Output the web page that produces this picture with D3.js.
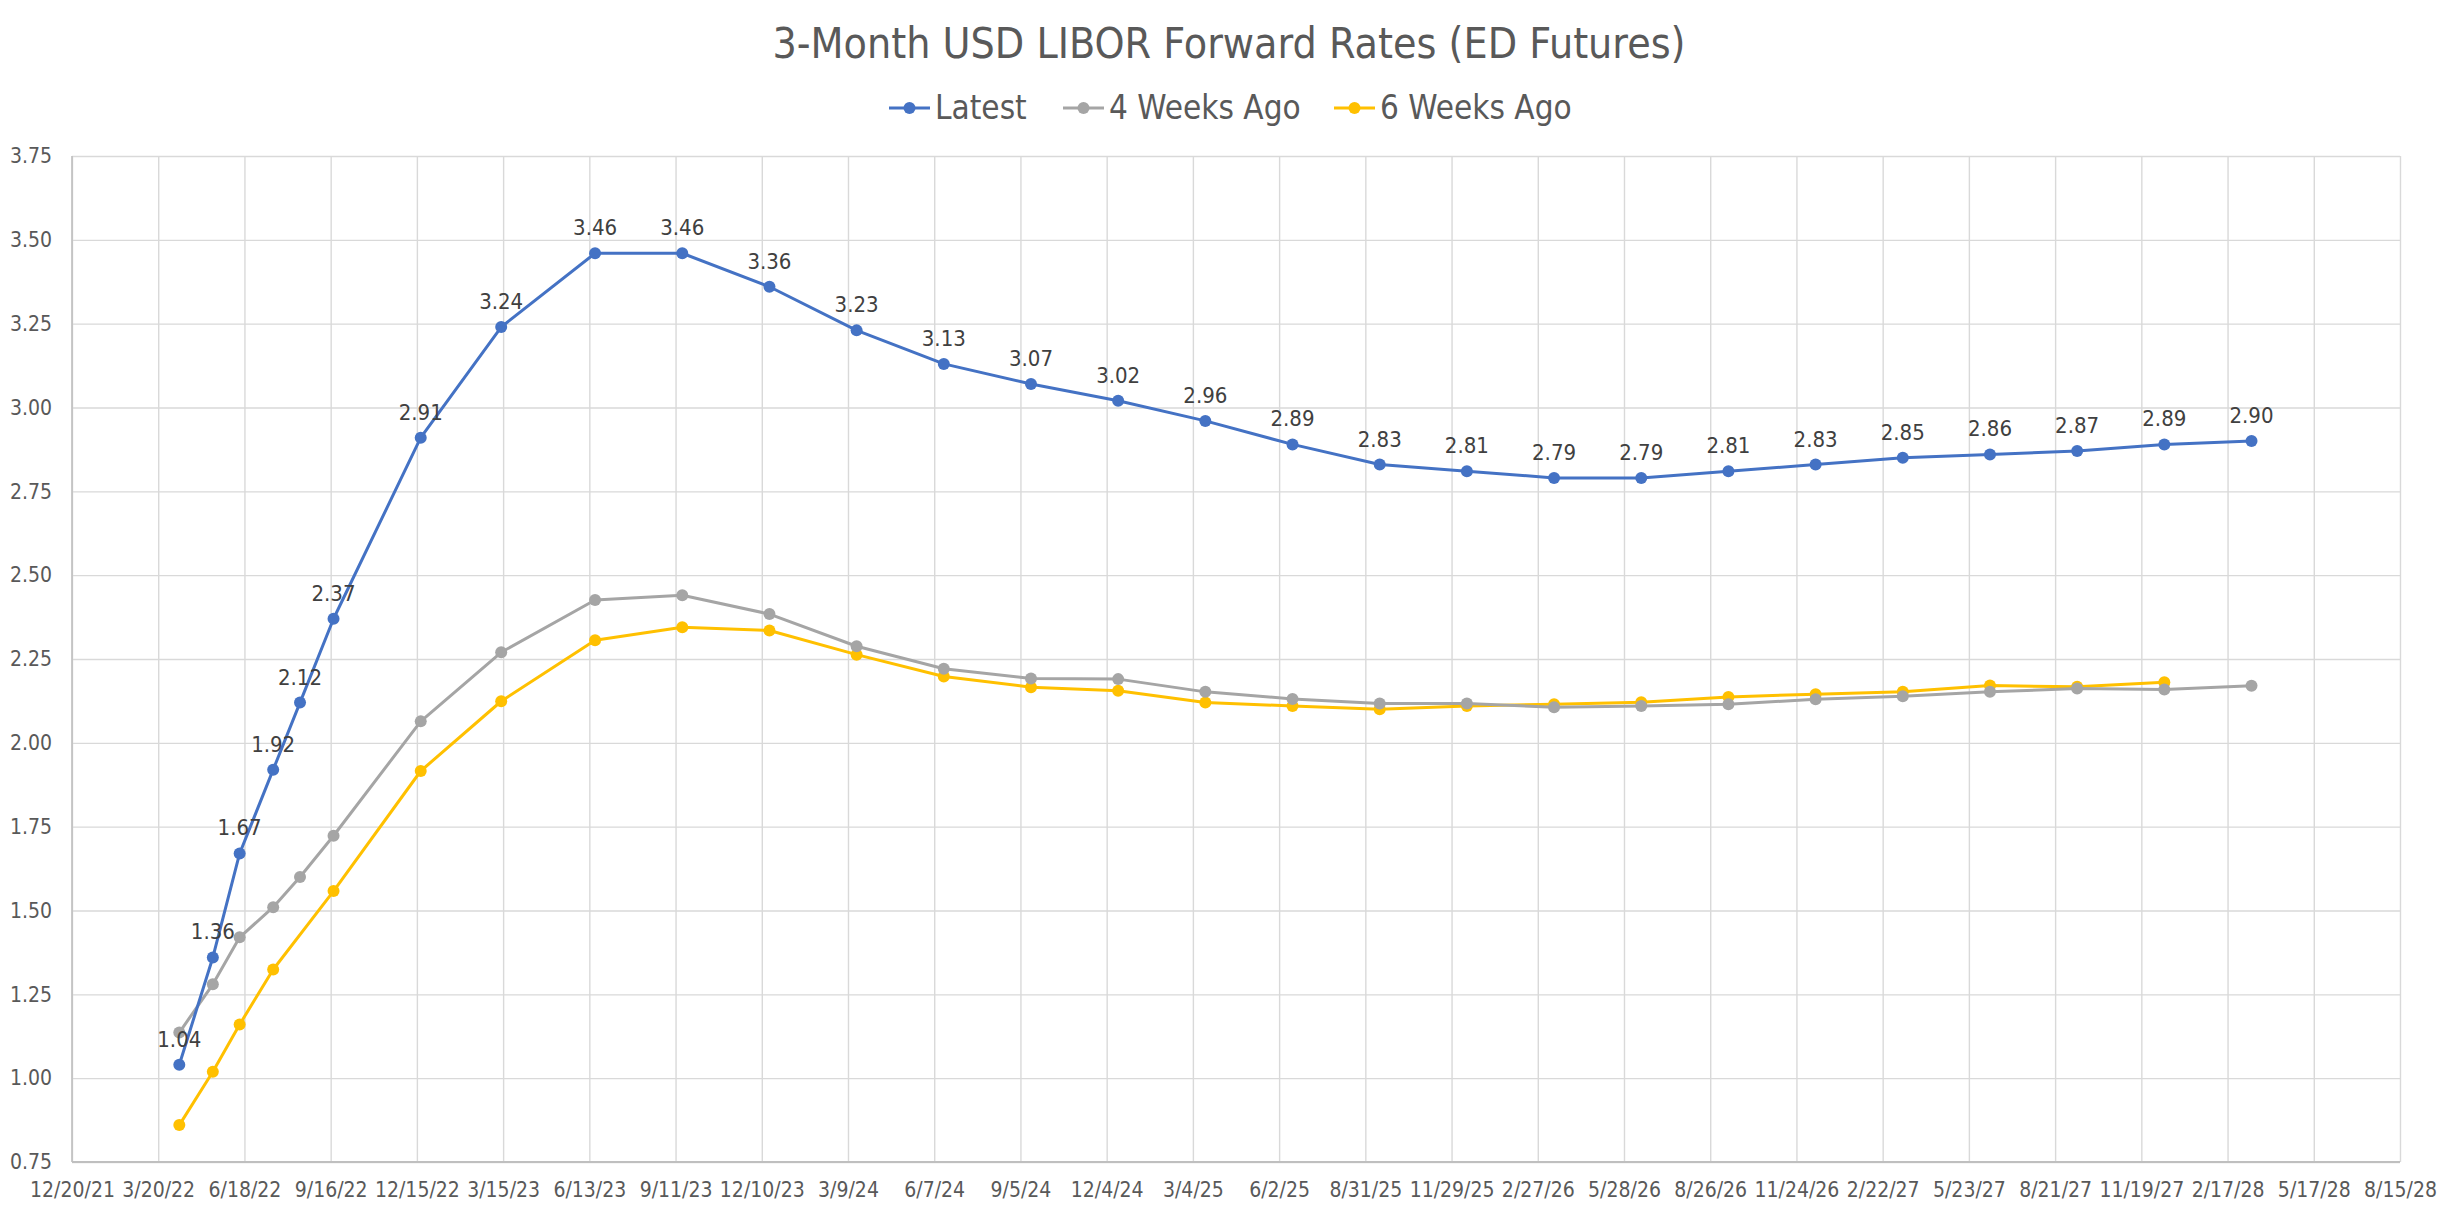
<!DOCTYPE html>
<html>
<head>
<meta charset="utf-8">
<script src="https://cdn.jsdelivr.net/npm/d3@7"></script>
<style>
  html, body { margin: 0; padding: 0; background: #ffffff; }
  svg { display: block; }
  text { font-family: "Liberation Sans Narrow", "DejaVu Sans Condensed", "Roboto", sans-serif; }
</style>
</head>
<body>
<svg id="chart" width="2458" height="1214"></svg>
<script>
// ---------------- data ----------------
const chartTitle = "3-Month USD LIBOR Forward Rates (ED Futures)";
const seriesNames = ["Latest", "4 Weeks Ago", "6 Weeks Ago"];
const seriesColors = ["#4472C4", "#A5A5A5", "#FFC000"];

// contract dates (last trading days)
const contractDates = [
  "2022-04-11","2022-05-16","2022-06-13","2022-07-18","2022-08-15","2022-09-19",
  "2022-12-19","2023-03-13","2023-06-19","2023-09-18","2023-12-18","2024-03-18",
  "2024-06-17","2024-09-16","2024-12-16","2025-03-17","2025-06-16","2025-09-15",
  "2025-12-15","2026-03-16","2026-06-15","2026-09-14","2026-12-14","2027-03-15",
  "2027-06-14","2027-09-13","2027-12-13","2028-03-13"
];
const latest = [1.04,1.36,1.67,1.92,2.12,2.37,2.91,3.24,3.46,3.46,3.36,3.23,3.13,3.07,3.02,2.96,2.89,2.83,2.81,2.79,2.79,2.81,2.83,2.85,2.86,2.87,2.89,2.90];
const fourWeeksAgo = [1.136,1.28,1.42,1.51,1.60,1.723,2.064,2.27,2.426,2.44,2.384,2.288,2.221,2.192,2.19,2.152,2.131,2.117,2.117,2.106,2.11,2.115,2.13,2.139,2.152,2.162,2.159,2.17];
const sixWeeksAgo = [0.86,1.019,1.16,1.324,null,1.558,1.916,2.124,2.306,2.345,2.335,2.263,2.198,2.166,2.155,2.12,2.11,2.10,2.11,2.115,2.121,2.137,2.145,2.152,2.171,2.167,2.181,null];

// axis ticks
const xAxisStart = "2021-12-20";
const xAxisEnd = "2028-08-15";
const xTickStepDays = 90;
const yTicks = [0.75,1.00,1.25,1.50,1.75,2.00,2.25,2.50,2.75,3.00,3.25,3.50,3.75];

// ---------------- layout ----------------
const W = 2458, H = 1214;
const plot = { left: 72, right: 2400, top: 156, bottom: 1162 };
const parse = d3.utcParse("%Y-%m-%d");
const fmtDate = d3.utcFormat("%-m/%-d/%y");

const x = d3.scaleUtc().domain([parse(xAxisStart), parse(xAxisEnd)]).range([plot.left, plot.right]);
const y = d3.scaleLinear().domain([yTicks[0], yTicks[yTicks.length-1]]).range([plot.bottom, plot.top]);

const xTickValues = [];
for (let d = parse(xAxisStart); d <= parse(xAxisEnd); d = d3.utcDay.offset(d, xTickStepDays)) xTickValues.push(d);

const svg = d3.select("#chart");
svg.append("rect").attr("width", W).attr("height", H).attr("fill", "#fff");

// gridlines
const g = svg.append("g");
g.append("g").attr("transform", `translate(0,${plot.bottom})`)
  .call(d3.axisBottom(x).tickValues(xTickValues).tickSize(-(plot.bottom - plot.top)).tickFormat(""))
  .call(s => s.select(".domain").remove())
  .call(s => s.selectAll("line").attr("stroke", "#D9D9D9").attr("stroke-width", 1.4));
g.append("g").attr("transform", `translate(${plot.left},0)`)
  .call(d3.axisLeft(y).tickValues(yTicks).tickSize(-(plot.right - plot.left)).tickFormat(""))
  .call(s => s.select(".domain").remove())
  .call(s => s.selectAll("line").attr("stroke", "#D9D9D9").attr("stroke-width", 1.4));

// axis lines
svg.append("line").attr("x1", plot.left).attr("x2", plot.left).attr("y1", plot.top).attr("y2", plot.bottom)
  .attr("stroke", "#BFBFBF").attr("stroke-width", 1.6);
svg.append("line").attr("x1", plot.left).attr("x2", plot.right).attr("y1", plot.bottom).attr("y2", plot.bottom)
  .attr("stroke", "#BFBFBF").attr("stroke-width", 2);

// axis labels
const xAx = svg.append("g").attr("transform", `translate(0,${plot.bottom})`)
  .call(d3.axisBottom(x).tickValues(xTickValues).tickSize(0).tickPadding(20).tickFormat(fmtDate));
xAx.select(".domain").remove();
xAx.selectAll("text").attr("fill", "#595959").attr("font-size", 21)
  .style("font-family", '"Liberation Sans Narrow", "DejaVu Sans Condensed", sans-serif');

const yAx = svg.append("g").attr("transform", `translate(${plot.left},0)`)
  .call(d3.axisLeft(y).tickValues(yTicks).tickSize(0).tickPadding(20).tickFormat(d3.format(".2f")));
yAx.select(".domain").remove();
yAx.selectAll("text").attr("fill", "#595959").attr("font-size", 21)
  .style("font-family", '"Liberation Sans Narrow", "DejaVu Sans Condensed", sans-serif');

// series
const seriesData = [latest, fourWeeksAgo, sixWeeksAgo].map((vals, si) => ({
  name: seriesNames[si], color: seriesColors[si],
  points: vals.map((v, i) => ({ date: parse(contractDates[i]), value: v })).filter(p => p.value !== null)
}));

const line = d3.line().x(d => x(d.date)).y(d => y(d.value));
const drawOrder = [2, 1, 0];
drawOrder.forEach(si => {
  const s = seriesData[si];
  const sg = svg.append("g");
  sg.append("path").datum(s.points).attr("d", line).attr("fill", "none")
    .attr("stroke", s.color).attr("stroke-width", 3).attr("stroke-linejoin", "round");
  sg.selectAll("circle").data(s.points).join("circle")
    .attr("cx", d => x(d.date)).attr("cy", d => y(d.value)).attr("r", 6).attr("fill", s.color);
});

// data labels for latest
svg.append("g").selectAll("text").data(seriesData[0].points).join("text")
  .attr("x", d => x(d.date)).attr("y", d => y(d.value) - 18)
  .attr("text-anchor", "middle").attr("font-size", 22).attr("fill", "#404040")
  .text(d => d3.format(".2f")(d.value));

// title
svg.append("text").attr("x", W / 2).attr("y", 58).attr("text-anchor", "middle")
  .attr("font-size", 42.5).attr("fill", "#595959").text(chartTitle);

// legend
const legendItems = [
  { x: 889, i: 0 }, { x: 1063, i: 1 }, { x: 1334, i: 2 }
];
const lg = svg.append("g");
legendItems.forEach(it => {
  const cy = 108;
  lg.append("line").attr("x1", it.x).attr("x2", it.x + 41).attr("y1", cy).attr("y2", cy)
    .attr("stroke", seriesColors[it.i]).attr("stroke-width", 3);
  lg.append("circle").attr("cx", it.x + 20.5).attr("cy", cy).attr("r", 6).attr("fill", seriesColors[it.i]);
  lg.append("text").attr("x", it.x + 46).attr("y", cy + 11).attr("font-size", 33)
    .attr("fill", "#595959").text(seriesNames[it.i]);
});
</script>
</body>
</html>
